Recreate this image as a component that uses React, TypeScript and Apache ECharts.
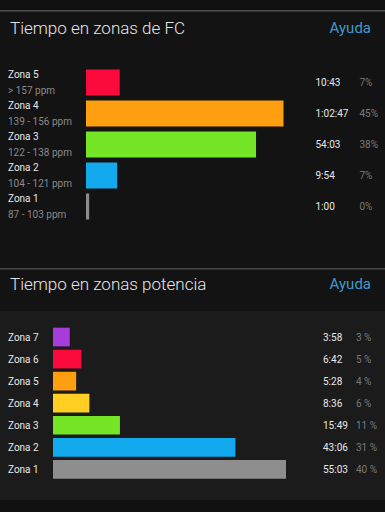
import React, { useEffect, useRef } from "react";
import * as echarts from "echarts";

// Heart-rate zones (top to bottom)
const hrZones = ["Zona 5", "Zona 4", "Zona 3", "Zona 2", "Zona 1"];
const hrRanges = ["> 157 ppm", "139 - 156 ppm", "122 - 138 ppm", "104 - 121 ppm", "87 - 103 ppm"];
const hrSeconds = [643, 3767, 3243, 594, 60];
const hrTimes = ["10:43", "1:02:47", "54:03", "9:54", "1:00"];
const hrPercents = ["7%", "45%", "38%", "7%", "0%"];
const hrColors = ["#fb0a3c", "#ff9f10", "#74e626", "#12a9ee", "#8c8c8c"];

// Power zones (top to bottom)
const pwZones = ["Zona 7", "Zona 6", "Zona 5", "Zona 4", "Zona 3", "Zona 2", "Zona 1"];
const pwSeconds = [238, 402, 328, 516, 949, 2586, 3303];
const pwTimes = ["3:58", "6:42", "5:28", "8:36", "15:49", "43:06", "55:03"];
const pwPercents = ["3 %", "5 %", "4 %", "6 %", "11 %", "31 %", "40 %"];
const pwColors = ["#a63ddb", "#fb0a3c", "#ff9f10", "#ffcf22", "#74e626", "#12a9ee", "#8e8e8e"];

const FONT = "Roboto, 'Noto Sans', sans-serif";

export default function App() {
  const ref = useRef<HTMLDivElement>(null);

  useEffect(() => {
    if (!ref.current) return;
    const chart = echarts.init(ref.current, undefined, { renderer: "svg" });

    const option: any = {
      animation: false,
      backgroundColor: "#131313",
      textStyle: { fontFamily: FONT },
      graphic: [
        { type: "rect", z: -10, shape: { x: 0, y: 0, width: 385, height: 10 }, style: { fill: "#101010" } },
        { type: "rect", z: -9, shape: { x: 0, y: 10, width: 385, height: 1.5 }, style: { fill: "#4e4e4e" } },
        { type: "rect", z: -9, shape: { x: 0, y: 268, width: 385, height: 1.5 }, style: { fill: "#4a4a4a" } },
        { type: "rect", z: -10, shape: { x: 0, y: 311, width: 385, height: 189 }, style: { fill: "#1b1b1b" } },
        { type: "rect", z: -10, shape: { x: 0, y: 500, width: 385, height: 12 }, style: { fill: "#101010" } },
        {
          type: "text", left: 10, top: 19,
          style: { text: "Tiempo en zonas de FC", fill: "#e6e6e6", fontSize: 17, fontWeight: 300, fontFamily: FONT },
        },
        {
          type: "text", right: 14, top: 20,
          style: { text: "Ayuda", fill: "#3d9ad2", fontSize: 15, fontFamily: FONT },
        },
        {
          type: "text", left: 10, top: 275,
          style: { text: "Tiempo en zonas potencia", fill: "#e6e6e6", fontSize: 17, fontWeight: 300, fontFamily: FONT },
        },
        {
          type: "text", right: 14, top: 276,
          style: { text: "Ayuda", fill: "#3d9ad2", fontSize: 15, fontFamily: FONT },
        },
      ],
      grid: [
        { left: 86, top: 67, width: 197.5, height: 155 },
        { left: 53, top: 326, width: 233, height: 154.4 },
      ],
      xAxis: [
        { gridIndex: 0, type: "value", min: 0, max: "dataMax", show: false },
        { gridIndex: 1, type: "value", min: 0, max: "dataMax", show: false },
      ],
      yAxis: [
        {
          gridIndex: 0, type: "category", inverse: true, data: hrZones,
          axisLine: { show: false }, axisTick: { show: false }, splitLine: { show: false },
          axisLabel: {
            align: "left", margin: 78,
            formatter: (v: string, i: number) => `{a|${v}}\n{b|${hrRanges[i]}}`,
            rich: {
              a: { color: "#e8e8e8", fontSize: 10, lineHeight: 16, fontFamily: FONT },
              b: { color: "#8a8a8a", fontSize: 10, lineHeight: 16, fontFamily: FONT },
            },
          },
        },
        {
          gridIndex: 0, type: "category", inverse: true, position: "right", data: hrTimes,
          axisLine: { show: false }, axisTick: { show: false }, splitLine: { show: false },
          axisLabel: {
            align: "left", margin: 32,
            formatter: (v: string, i: number) => `{t|${v}}{p|${hrPercents[i]}}`,
            rich: {
              t: { color: "#e8e8e8", fontSize: 10, width: 44, fontFamily: FONT },
              p: { color: "#7a7a7a", fontSize: 10, fontFamily: FONT },
            },
          },
        },
        {
          gridIndex: 1, type: "category", inverse: true, data: pwZones,
          axisLine: { show: false }, axisTick: { show: false }, splitLine: { show: false },
          axisLabel: {
            align: "left", margin: 45, color: "#e8e8e8", fontSize: 10, fontFamily: FONT,
          },
        },
        {
          gridIndex: 1, type: "category", inverse: true, position: "right", data: pwTimes,
          axisLine: { show: false }, axisTick: { show: false }, splitLine: { show: false },
          axisLabel: {
            align: "left", margin: 37,
            formatter: (v: string, i: number) => `{t|${v}}{p|${pwPercents[i]}}`,
            rich: {
              t: { color: "#e8e8e8", fontSize: 10, width: 33, fontFamily: FONT },
              p: { color: "#7a7a7a", fontSize: 10, fontFamily: FONT },
            },
          },
        },
      ],
      series: [
        {
          type: "bar", xAxisIndex: 0, yAxisIndex: 0, barWidth: 26,
          data: hrSeconds.map((v, i) => ({ value: v, itemStyle: { color: hrColors[i] } })),
        },
        {
          type: "bar", xAxisIndex: 1, yAxisIndex: 2, barWidth: 18.7,
          data: pwSeconds.map((v, i) => ({ value: v, itemStyle: { color: pwColors[i] } })),
        },
      ],
    };

    chart.setOption(option);
    return () => chart.dispose();
  }, []);

  return (
    <div
      ref={ref}
      style={{ position: "fixed", left: 0, top: 0, width: 385, height: 512 }}
    />
  );
}
